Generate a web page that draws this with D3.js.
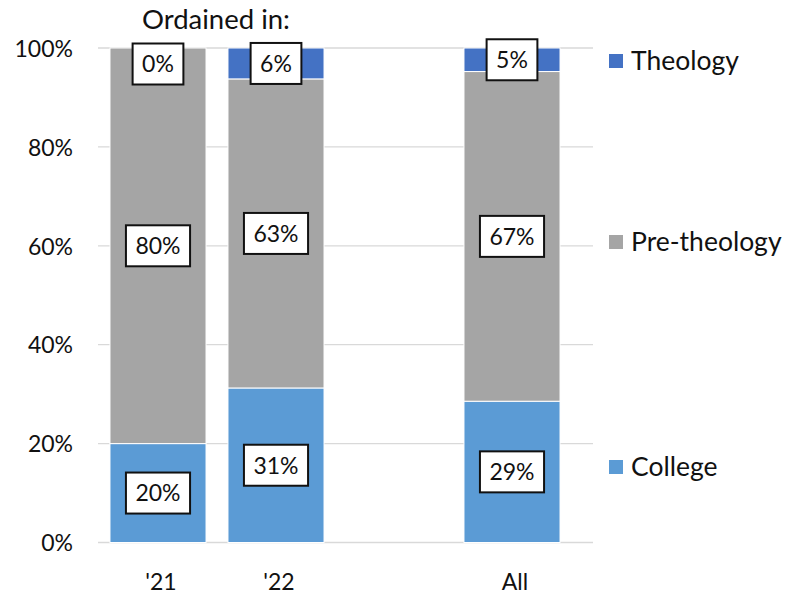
<!DOCTYPE html>
<html>
<head>
<meta charset="utf-8">
<script src="https://cdn.jsdelivr.net/npm/d3@7"></script>
<style>
  html, body { margin: 0; padding: 0; background: #fff; }
  svg { display: block; }
  text { font-family: Lato, "Open Sans", sans-serif; fill: #111; }
</style>
</head>
<body>
<svg id="chart" width="791" height="598"></svg>
<script>
// ---- data ----
const categories = ["'21", "'22", "", "All"];
const seriesNames = ["College", "Pre-theology", "Theology"];
const college     = [20, 31.25, null, 28.57];
const preTheology = [80, 62.5,  null, 66.67];
const theology    = [0,  6.25,  null, 4.76];
const yTicks = [0, 20, 40, 60, 80, 100];
const titleText = "Ordained in:";

// ---- styles / layout ----
const colors = { "College": "#5B9BD5", "Pre-theology": "#A5A5A5", "Theology": "#4472C4" };
const legendOrder = ["Theology", "Pre-theology", "College"];
const legendCenters = [61, 242, 467];

const svg = d3.select("#chart");

const x = d3.scaleBand().domain(categories).range([99, 571]).paddingInner(0.186).paddingOuter(0.093);
const y = d3.scaleLinear().domain([0, 100]).range([542.5, 48]);

// gridlines
svg.append("g").selectAll("line").data(yTicks).join("line")
  .attr("x1", 98).attr("x2", 593)
  .attr("y1", d => y(d)).attr("y2", d => y(d))
  .attr("stroke", "#d9d9d9").attr("stroke-width", 1.3);

// y axis labels
const yAxis = d3.axisLeft(y).tickValues(yTicks).tickFormat(d => d + "%").tickSize(0).tickPadding(0);
const yg = svg.append("g").attr("transform", "translate(73,0)").call(yAxis);
yg.select(".domain").remove();
yg.selectAll("text").style("font-size", "23px").style("font-family", "Lato, 'Open Sans', sans-serif").attr("fill", "#111").attr("dy", "0.36em");

// x axis labels
const xAxis = d3.axisBottom(x).tickSize(0).tickPadding(0);
const xg = svg.append("g").attr("transform", "translate(3,590)").call(xAxis);
xg.select(".domain").remove();
xg.selectAll("text").style("font-size", "23px").style("font-family", "Lato, 'Open Sans', sans-serif").attr("fill", "#111").attr("dy", "0");

// stack
const rows = categories.map((c, i) => ({ cat: c, "College": college[i], "Pre-theology": preTheology[i], "Theology": theology[i] }))
  .filter(r => r.College !== null);
const stack = d3.stack().keys(seriesNames)(rows);

const barsG = svg.append("g");
stack.forEach(layer => {
  barsG.append("g").selectAll("rect").data(layer).join("rect")
    .attr("x", d => x(d.data.cat))
    .attr("width", x.bandwidth())
    .attr("y", d => y(d[1]))
    .attr("height", d => y(d[0]) - y(d[1]))
    .attr("fill", colors[layer.key])
    .attr("stroke", "#fff").attr("stroke-width", 1);
});

// data labels
const labelsG = svg.append("g");
stack.forEach(layer => {
  layer.forEach(d => {
    const v = d.data[layer.key];
    let cy = (y(d[0]) + y(d[1])) / 2;
    if (v === 0) cy = y(d[1]) + 16;
    const cx = x(d.data.cat) + x.bandwidth() / 2;
    const g = labelsG.append("g");
    const rect = g.append("rect");
    const t = g.append("text")
      .attr("x", cx).attr("y", cy).attr("dy", "0.36em")
      .attr("text-anchor", "middle")
      .style("font-size", "23px")
      .text(Math.round(v) + "%");
    const w = t.node().getComputedTextLength() + 19;
    rect.attr("x", cx - w / 2).attr("y", cy - 20.5).attr("width", w).attr("height", 41)
      .attr("fill", "#fff").attr("stroke", "#111").attr("stroke-width", 2);
  });
});

// title
svg.append("text").attr("x", 216).attr("y", 29).attr("text-anchor", "middle")
  .style("font-size", "27.5px").text(titleText);

// legend
const lg = svg.append("g");
legendOrder.forEach((name, i) => {
  const cy = legendCenters[i];
  lg.append("rect").attr("x", 609).attr("y", cy - 7).attr("width", 14).attr("height", 14).attr("fill", colors[name]);
  lg.append("text").attr("x", 631).attr("y", cy + 8.5).style("font-size", "26.5px").text(name);
});
</script>
</body>
</html>
